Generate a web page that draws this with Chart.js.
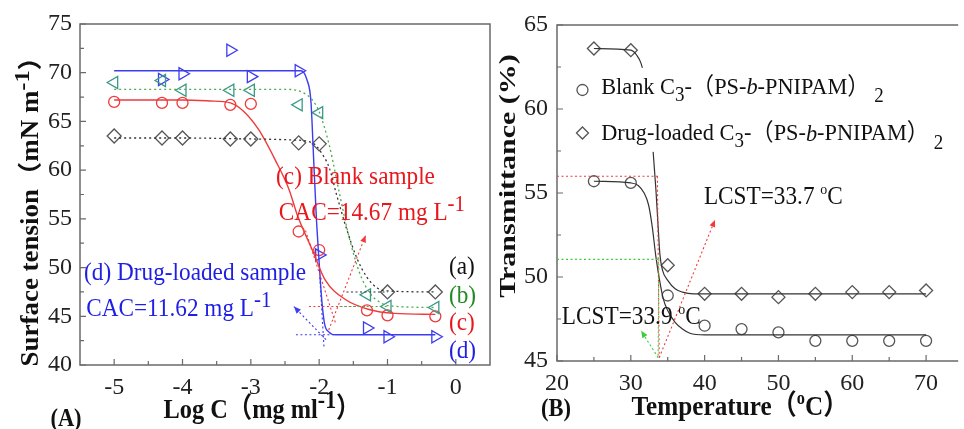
<!DOCTYPE html>
<html><head><meta charset="utf-8">
<script src="https://cdn.jsdelivr.net/npm/chart.js@4.4.1/dist/chart.umd.min.js"></script>
<style>
html,body{margin:0;padding:0;background:#fff}
#wrap{position:relative;width:964px;height:429px;overflow:hidden;background:#fff}
canvas{position:absolute;top:0}
#ca{left:0}
#cb{left:490px}
</style></head>
<body><div id="wrap"><canvas id="ca" width="500" height="429"></canvas><canvas id="cb" width="474" height="429"></canvas></div>
<script>
// ---------- Panel A data ----------
const logC = [-5, -4.3, -4, -3.3, -3, -2.3, -2, -1.3, -1, -0.3];
const tensionA = [63.5, 63.3, 63.3, 63.2, 63.2, 62.8, 62.7, null, 47.5, 47.5];
const tensionB = [69.0, 69.2, 68.2, 68.2, 68.2, 66.7, 65.9, 47.2, 46.0, 45.9];
const tensionC = [67.0, 66.9, 66.9, 66.7, 66.8, 53.7, 51.8, 45.6, 45.1, 45.0];
const tensionD = [null, 69.3, 69.9, 72.3, 69.6, 70.2, 51.3, 43.8, 42.9, 42.9];
// fitted curves
const fitA = [[-5,63.3],[-4,63.3],[-3,63.2],[-2.4,63.1],[-2.1,62.8],[-1.95,61.6],[-1.85,60.2],[-1.75,57.6],[-1.6,54.0],[-1.45,51.0],[-1.3,49.0],[-1.15,47.9],[-1.0,47.6],[-0.3,47.5]];
const fitB = [[-5,68.3],[-3,68.3],[-2.5,68.3],[-2.25,68.0],[-2.1,67.2],[-2.0,66.0],[-1.85,62.5],[-1.7,57.5],[-1.55,52.8],[-1.4,49.3],[-1.25,47.3],[-1.1,46.4],[-1.0,46.1],[-0.3,45.9]];
const fitC = [[-5,67.2],[-4,67.2],[-3.6,67.1],[-3.3,66.9],[-3.1,66.0],[-2.88,64.1],[-2.64,61.0],[-2.44,58.0],[-2.32,55.4],[-2.1,51.8],[-1.91,48.7],[-1.61,46.7],[-1.27,45.7],[-0.9,45.3],[-0.3,45.2]];
const fitD = [[-5,70.2],[-3,70.2],[-2.27,70.2],[-2.18,69.3],[-2.12,67.0],[-2.08,61.0],[-2.04,55.0],[-2.0,50.5],[-1.96,46.5],[-1.92,44.2],[-1.86,43.4],[-1.76,43.1],[-0.3,43.1]];
const xTicksA = [-5, -4, -3, -2, -1, 0];
const xMinorA = [-4.5, -3.5, -2.5, -1.5, -0.5];
const yTicksA = [40, 45, 50, 55, 60, 65, 70, 75];
const yMinorA = [42.5, 47.5, 52.5, 57.5, 62.5, 67.5, 72.5];

// ---------- Panel B data ----------
const tempC = [25, 30, 35, 40, 45, 50, 55, 60, 65, 70];
const blankT = [55.7, 55.6, 48.9, 47.1, 46.9, 46.7, 46.2, 46.2, 46.2, 46.2];
const drugT = [63.6, 63.5, 50.7, 49.0, 49.0, 48.8, 49.0, 49.1, 49.1, 49.2];
const fitBlank = [[25,55.7],[30,55.6],[31,55.45],[31.8,55.0],[32.4,54.3],[32.9,53.0],[33.4,51.2],[33.9,49.8],[34.4,48.7],[35,48.0],[36,47.3],[37,46.9],[38,46.65],[40,46.55],[70,46.55]];
const fitDrug = [[25,63.6],[30,63.5],[30.8,63.2],[31.4,62.7],[31.9,61.8],[32.5,60.0],[33.0,57.6],[33.4,55.2],[33.7,53.0],[33.95,51.3],[34.3,50.4],[35,49.8],[36,49.3],[37,49.1],[38.5,49.0],[70,49.0]];
const xTicksB = [20, 30, 40, 50, 60, 70];
const xMinorB = [25, 35, 45, 55, 65];
const yTicksB = [45, 50, 55, 60, 65];
const yMinorB = [47.5, 52.5, 57.5, 62.5];

// ---------- styles ----------
const FONT = "'Liberation Serif','Noto Sans CJK SC',serif";
Chart.defaults.font.family = FONT;
const RED = '#f03a3c', RED_T = '#e8171c';
const BLUE = '#3c3cf0', BLUE_T = '#1e1ee4';
const GREEN = '#4caa4c', TEAL = '#3a9a8a', GREEN_T = '#218a21';
const GRAY = '#555555', DARK = '#333333';
const AXIS = '#6a6a6a';

const pts = (xs, ys) => xs.map((x, i) => ({x, y: ys[i]})).filter(p => p.y !== null);
const pairs = arr => arr.map(([x, y]) => ({x, y}));

function drawRich(ctx, x, y, segs, o) {
  ctx.save();
  ctx.translate(x, y);
  if (o.rot) ctx.rotate(o.rot);
  ctx.scale(o.sx || 1, o.sy || 1);
  let w = 0;
  const items = segs.map(s => {
    const sz = o.size * (s.sup || s.sub ? (s.scale || 0.85) : 1);
    const f = (s.italic ? 'italic ' : '') + (o.bold ? 'bold ' : '') + sz + 'px ' + FONT;
    ctx.font = f;
    const it = {t: s.t, f, x: w, dy: s.sup ? -o.size * (s.rise || 0.3) : s.sub ? o.size * (s.drop || 0.32) : 0};
    w += ctx.measureText(s.t).width;
    return it;
  });
  const x0 = o.align === 'center' ? -w / 2 : o.align === 'right' ? -w : 0;
  ctx.fillStyle = o.color || '#111';
  ctx.textBaseline = 'middle';
  ctx.textAlign = 'left';
  items.forEach(it => { ctx.font = it.f; ctx.fillText(it.t, x0 + it.x, it.dy); });
  ctx.restore();
}

function arrowHead(ctx, x1, y1, x2, y2, color) {
  const a = Math.atan2(y2 - y1, x2 - x1), L = 7, W = 3;
  ctx.save();
  ctx.fillStyle = color;
  ctx.beginPath();
  ctx.moveTo(x2, y2);
  ctx.lineTo(x2 - L * Math.cos(a) + W * Math.sin(a), y2 - L * Math.sin(a) - W * Math.cos(a));
  ctx.lineTo(x2 - L * Math.cos(a) - W * Math.sin(a), y2 - L * Math.sin(a) + W * Math.cos(a));
  ctx.closePath();
  ctx.fill();
  ctx.restore();
}

function makeFrame(cfg) {
  return {
    id: 'frame',
    afterDatasetsDraw(chart) {
      const {ctx, chartArea: a, scales: {x, y}} = chart;
      ctx.save();
      ctx.strokeStyle = AXIS; ctx.lineWidth = 1.5;
      ctx.beginPath();
      if (cfg.right) { ctx.rect(a.left, a.top, a.right - a.left, a.bottom - a.top); }
      else {
        ctx.moveTo(a.right + 2, a.top); ctx.lineTo(a.left, a.top);
        ctx.lineTo(a.left, a.bottom); ctx.lineTo(a.right + 2, a.bottom);
      }
      ctx.stroke();
      ctx.lineWidth = 1.2;
      ctx.beginPath();
      cfg.xMaj.forEach(v => { const p = x.getPixelForValue(v); ctx.moveTo(p, a.bottom); ctx.lineTo(p, a.bottom - 6); });
      cfg.xMin.forEach(v => { const p = x.getPixelForValue(v); ctx.moveTo(p, a.bottom); ctx.lineTo(p, a.bottom - 4); });
      cfg.yMaj.forEach(v => { const p = y.getPixelForValue(v); ctx.moveTo(a.left, p); ctx.lineTo(a.left + 6, p); });
      cfg.yMin.forEach(v => { const p = y.getPixelForValue(v); ctx.moveTo(a.left, p); ctx.lineTo(a.left + 4, p); });
      ctx.stroke();
      ctx.restore();
    }
  };
}

function makeAnn(cfg) {
  return {
    id: 'ann',
    afterDraw(chart) {
      const {ctx, scales: {x, y}} = chart;
      const X = v => x.getPixelForValue(v), Y = v => y.getPixelForValue(v);
      if (cfg.box) {
        const b = cfg.box;
        ctx.save(); ctx.fillStyle = '#fff';
        ctx.fillRect(X(b[0]), Y(b[1]), X(b[2]) - X(b[0]), Y(b[3]) - Y(b[1]));
        ctx.restore();
      }
      cfg.lines.forEach(l => {
        ctx.save();
        ctx.strokeStyle = l.color; ctx.lineWidth = 1.1; ctx.setLineDash([2, 2.5]);
        ctx.beginPath();
        l.pts.forEach(([px, py], i) => i ? ctx.lineTo(X(px), Y(py)) : ctx.moveTo(X(px), Y(py)));
        ctx.stroke();
        ctx.restore();
        if (l.arrow) {
          const n = l.pts.length, p1 = l.pts[n - 2], p2 = l.pts[n - 1];
          arrowHead(ctx, X(p1[0]), Y(p1[1]), X(p2[0]), Y(p2[1]), l.color);
        }
      });
      (cfg.markers || []).forEach(m => {
        ctx.save();
        ctx.fillStyle = 'rgba(0,0,0,0)';
        ctx.strokeStyle = GRAY; ctx.lineWidth = 1.3;
        Chart.helpers.drawPoint(ctx, {pointStyle: m.style, radius: m.r, borderWidth: 1.3}, X(m.x), Y(m.y));
        ctx.restore();
      });
      cfg.texts.forEach(t => drawRich(ctx, X(t.x), Y(t.y), t.segs, t.o));
      cfg.fixed.forEach(t => drawRich(ctx, t.x, t.y, t.segs, t.o));
    }
  };
}

function scaleOpts(min, max, ticks, fixSize, isX, pad) {
  return {
    type: 'linear', min, max,
    grid: {display: false, drawTicks: false},
    border: {display: false},
    ticks: {font: {family: FONT, size: 24}, color: '#222', padding: pad, autoSkip: false, maxRotation: 0},
    afterBuildTicks: s => { s.ticks = ticks.map(v => ({value: v})); },
    afterFit: s => { if (isX) s.height = fixSize; else s.width = fixSize; }
  };
}

const baseOpts = (pad, xs, ys) => ({
  responsive: false, animation: false, devicePixelRatio: 1,
  layout: {padding: pad},
  plugins: {legend: {display: false}, tooltip: {enabled: false}},
  scales: {x: xs, y: ys}
});

const curve = (data, color, dash, w) => ({data: pairs(data), showLine: true, pointRadius: 0, borderColor: color, borderWidth: w || 1.3, borderDash: dash || [], cubicInterpolationMode: 'monotone', fill: false});
const marks = (data, style, color, r, rot) => ({data, showLine: false, pointStyle: style, pointRadius: r, pointRotation: rot || 0, pointBorderColor: color, pointBackgroundColor: 'rgba(0,0,0,0)', pointBorderWidth: 1.3});

const annTxt = {size: 25, sx: 0.93};

// ---------- Chart A ----------
new Chart(document.getElementById('ca'), {
  type: 'scatter',
  data: {datasets: [
    curve(fitA, DARK, [2, 3], 1.3),
    curve(fitB, GREEN, [2, 3], 1.3),
    curve(fitC, RED, [], 1.4),
    curve(fitD, BLUE, [], 1.4),
    marks(pts(logC, tensionA), 'rectRot', GRAY, 7),
    marks(pts(logC, tensionB), 'triangle', TEAL, 7, -90),
    marks(pts(logC, tensionC), 'circle', RED, 5.5),
    marks(pts(logC, tensionD), 'triangle', BLUE, 7, 90)
  ]},
  options: baseOpts({top: 24, right: 10, left: 0, bottom: 0},
    scaleOpts(-5.5, 0.5, xTicksA, 64, true, 8),
    scaleOpts(40, 75, yTicksA, 80, false, 8)),
  plugins: [makeFrame({right: true, xMaj: xTicksA, xMin: xMinorA, yMaj: yTicksA, yMin: yMinorA}),
    makeAnn({
      lines: [
        {pts: [[-2.15, 46.0], [-1.3, 46.0]], color: RED},
        {pts: [[-2.2, 53.8], [-1.76, 44.3]], color: RED},
        {pts: [[-1.86, 43.6], [-1.32, 53.3]], color: RED, arrow: true},
        {pts: [[-2.34, 43.1], [-1.75, 43.1]], color: BLUE},
        {pts: [[-1.93, 41.9], [-1.99, 49.0]], color: BLUE},
        {pts: [[-1.9, 42.6], [-2.37, 46.0]], color: BLUE, arrow: true},
        {pts: [[-1.6, 47.5], [-1.0, 47.5]], color: DARK},
        {pts: [[-1.7, 46.0], [-1.0, 46.0]], color: GREEN}
      ],
      texts: [
        {x: -2.63, y: 59.2, segs: [{t: '(c) Blank sample'}], o: {...annTxt, color: RED_T}},
        {x: -2.59, y: 55.6, segs: [{t: 'CAC=14.67 mg L'}, {t: '-1', sup: 1, scale: 0.9, rise: 0.32}], o: {...annTxt, color: RED_T}},
        {x: -5.44, y: 49.4, segs: [{t: '(d) Drug-loaded sample'}], o: {...annTxt, color: BLUE_T}},
        {x: -5.41, y: 45.75, segs: [{t: 'CAC=11.62 mg L'}, {t: '-1', sup: 1, scale: 0.9, rise: 0.32}], o: {...annTxt, color: BLUE_T}},
        {x: -0.10, y: 50.05, segs: [{t: '(a)'}], o: {...annTxt, color: '#111'}},
        {x: -0.10, y: 47.0, segs: [{t: '(b)'}], o: {...annTxt, color: GREEN_T}},
        {x: -0.10, y: 44.3, segs: [{t: '(c)'}], o: {...annTxt, color: RED_T}},
        {x: -0.10, y: 41.4, segs: [{t: '(d)'}], o: {...annTxt, color: BLUE_T}}
      ],
      fixed: [
        {x: 32, y: 205, segs: [{t: 'Surface tension（mN m'}, {t: '-1', sup: 1, scale: 0.9, rise: 0.35}, {t: '）'}], o: {size: 27, bold: true, rot: -Math.PI / 2, sy: 0.9, align: 'center', color: '#111'}},
        {x: 262, y: 411, segs: [{t: 'Log C（mg ml'}, {t: '-1', sup: 1, scale: 0.9, rise: 0.35}, {t: '）'}], o: {size: 28, bold: true, sx: 0.87, align: 'center', color: '#111'}},
        {x: 66, y: 420, segs: [{t: '(A)'}], o: {size: 25, bold: true, sx: 0.9, align: 'center', color: '#111'}}
      ]
    })]
});

// ---------- Chart B ----------
new Chart(document.getElementById('cb'), {
  type: 'scatter',
  data: {datasets: [
    curve(fitBlank, DARK, [], 1.2),
    curve(fitDrug, DARK, [], 1.2),
    marks(pts(tempC, blankT), 'circle', GRAY, 5.5),
    marks(pts(tempC, drugT), 'rectRot', GRAY, 6.5)
  ]},
  options: baseOpts({top: 25, right: 0, left: 0, bottom: 0},
    scaleOpts(20, 74.08, xTicksB, 68, true, 8),
    scaleOpts(45, 65, yTicksB, 67, false, 9)),
  plugins: [makeFrame({right: false, xMaj: xTicksB, xMin: xMinorB, yMaj: yTicksB, yMin: yMinorB}),
    makeAnn({
      box: [21.0, 62.45, 74.08, 57.45],
      lines: [
        {pts: [[20, 56.0], [33.9, 56.0]], color: RED},
        {pts: [[33.6, 56.0], [33.85, 45.2]], color: RED},
        {pts: [[33.85, 45.2], [41.4, 53.4]], color: RED, arrow: true},
        {pts: [[20, 51.05], [33.8, 51.05]], color: '#3ccc3c'},
        {pts: [[33.8, 51.05], [33.7, 45.2]], color: '#3ccc3c'},
        {pts: [[33.7, 45.2], [31.4, 46.8]], color: '#3ccc3c', arrow: true}
      ],
      markers: [{x: 23.45, y: 61.13, style: 'circle', r: 5.5}, {x: 23.45, y: 58.57, style: 'rectRot', r: 6}],
      texts: [
        {x: 25.98, y: 61.25, segs: [{t: 'Blank C'}, {t: '3', sub: 1, drop: 0.32}, {t: '-（PS-'}, {t: 'b', italic: 1, sub: 1, scale: 1, drop: 0.001}, {t: '-PNIPAM）'}, {t: ' 2', sub: 1, drop: 0.38}], o: {size: 24, sx: 0.93, color: '#111'}},
        {x: 25.98, y: 58.5, segs: [{t: 'Drug-loaded C'}, {t: '3', sub: 1, drop: 0.32}, {t: '-（PS-'}, {t: 'b', italic: 1, sub: 1, scale: 1, drop: 0.001}, {t: '-PNIPAM）'}, {t: ' 2', sub: 1, drop: 0.38}], o: {size: 24, sx: 0.93, color: '#111'}},
        {x: 39.9, y: 54.76, segs: [{t: 'LCST=33.7 '}, {t: 'o', sup: 1, scale: 0.6, rise: 0.28}, {t: 'C'}], o: {...annTxt, color: '#111'}},
        {x: 20.66, y: 47.6, segs: [{t: 'LCST=33.9 '}, {t: 'o', sup: 1, scale: 0.6, rise: 0.28}, {t: 'C'}], o: {...annTxt, color: '#111'}}
      ],
      fixed: [
        {x: 19, y: 176, segs: [{t: 'Transmittance (%)'}], o: {size: 30, bold: true, rot: -Math.PI / 2, sy: 0.8, align: 'center', color: '#111'}},
        {x: 250, y: 408, segs: [{t: 'Temperature（'}, {t: 'o', sup: 1, scale: 0.65, rise: 0.3}, {t: 'C）'}], o: {size: 28, bold: true, sx: 0.9, align: 'center', color: '#111'}},
        {x: 66, y: 410, segs: [{t: '(B)'}], o: {size: 25, bold: true, sx: 0.9, align: 'center', color: '#111'}}
      ]
    })]
});
</script>
</body></html>
